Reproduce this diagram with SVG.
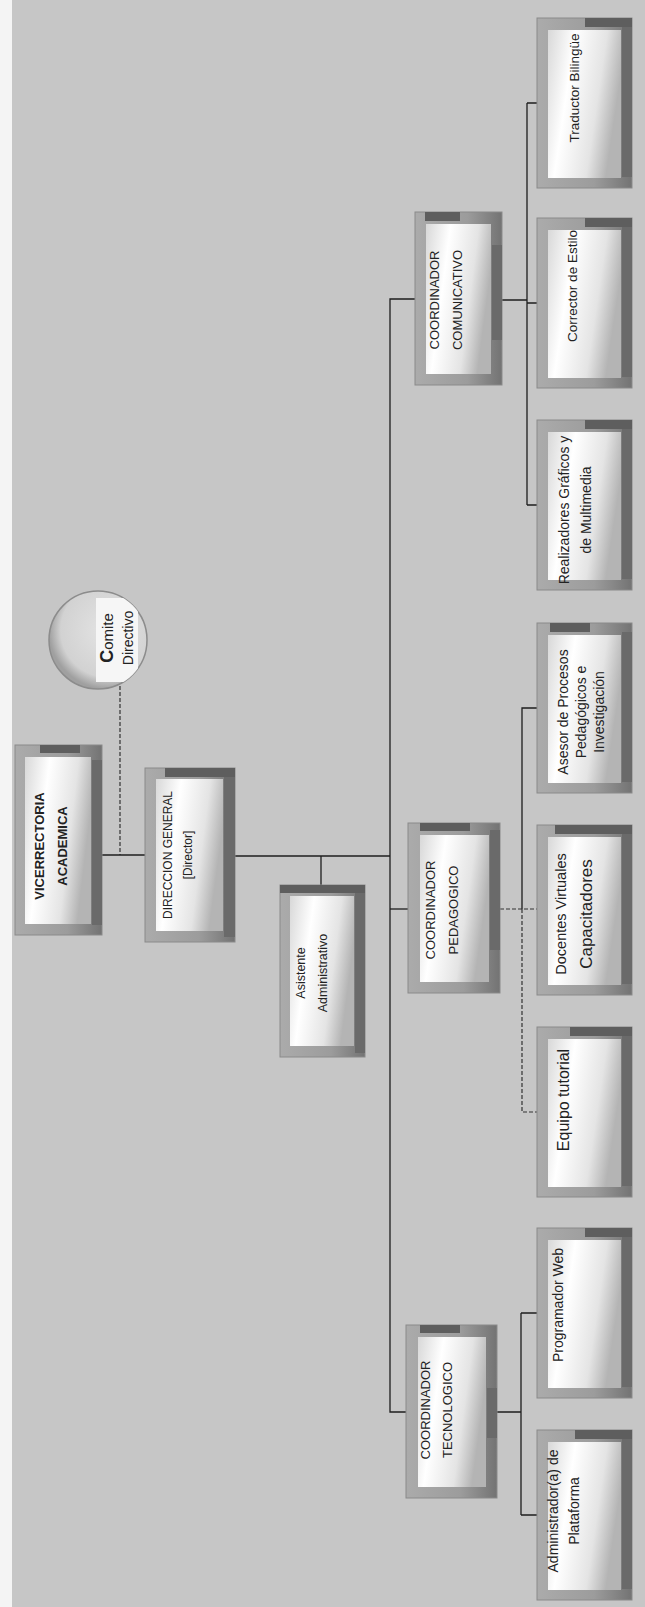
<svg xmlns="http://www.w3.org/2000/svg" width="645" height="1607" viewBox="0 0 645 1607">
<defs>
<linearGradient id="frameG" x1="0" y1="0" x2="1" y2="0">
<stop offset="0" stop-color="#ababab"/><stop offset="0.6" stop-color="#9c9c9c"/><stop offset="1" stop-color="#737373"/>
</linearGradient>
<linearGradient id="panelG" x1="0" y1="0" x2="1" y2="0.3">
<stop offset="0" stop-color="#d8d8d8"/><stop offset="0.35" stop-color="#ffffff"/><stop offset="0.75" stop-color="#e4e4e4"/><stop offset="1" stop-color="#b4b4b4"/>
</linearGradient>
<radialGradient id="circG" cx="0.6" cy="0.4" r="0.6">
<stop offset="0" stop-color="#e4e4e4"/><stop offset="0.8" stop-color="#d2d2d2"/><stop offset="1" stop-color="#a0a0a0"/>
</radialGradient>
<clipPath id="circClip"><circle cx="98" cy="640" r="49"/></clipPath>
<style>
.frame{fill:url(#frameG);stroke:#8a8a8a;stroke-width:1}
.band{fill:#5e5e5e}
.rband{fill:#6a6a6a}
.panel{fill:url(#panelG)}
.t{font-family:"Liberation Sans",Arial,sans-serif;font-size:13px;fill:#222;text-anchor:middle;dominant-baseline:central}
.s{font-size:14px}
.b{font-weight:bold}
.ln{fill:none;stroke:#1e1e1e;stroke-width:1.3}
.dl{fill:none;stroke:#333;stroke-width:1.2;stroke-dasharray:4 2}
</style>
</defs>
<rect x="0" y="0" width="645" height="1607" fill="#f4f4f4"/>
<rect x="12" y="0" width="633" height="1607" fill="#c6c6c6"/>

<g id="connectors">
<path class="dl" d="M120 686 V855"/>
<path class="ln" d="M102 855 H145"/>
<path class="ln" d="M235 856 H390"/>
<path class="ln" d="M321 856 V885"/>
<path class="ln" d="M415 299 H390 V1412 H406"/>
<path class="ln" d="M390 909 H408"/>
<path class="ln" d="M502 300 H527 M527 103 V505 M527 103 H537 M527 303 H537 M527 505 H537"/>
<path class="ln" d="M537 708 H522 V909"/>
<path class="dl" d="M500 909 H537 M522 909 V1112 H537"/>
<path class="ln" d="M497 1412 H521 M521 1313 V1515 M521 1313 H537 M521 1515 H537"/>
</g>

<g id="comite">
<circle cx="98" cy="640" r="49" fill="url(#circG)" stroke="#8c8c8c" stroke-width="1.5"/>
<rect x="96" y="598" width="42" height="84" fill="#f6f6f6" clip-path="url(#circClip)"/>
<text class="t" transform="translate(117,638) rotate(-90)"><tspan x="0" y="-10" style="font-size:15px"><tspan class="b" style="font-size:18px">C</tspan>omite</tspan><tspan x="0" y="11" style="font-size:14px">Directivo</tspan></text>
</g>

<g id="vicerrectoria">
<rect class="frame" x="15" y="745" width="87" height="190"/>
<rect class="band" x="40" y="745" width="40" height="8"/>
<rect class="rband" x="92" y="760" width="10" height="165"/>
<rect class="panel" x="25" y="757" width="66" height="167"/>
<text class="t b" transform="translate(50,846) rotate(-90)"><tspan x="0" y="-11.5">VICERRECTORIA</tspan><tspan x="0" y="11.5">ACADEMICA</tspan></text>
</g>

<g id="direccion">
<rect class="frame" x="145" y="768" width="90" height="174"/>
<rect class="band" x="165" y="768" width="70" height="9"/>
<rect class="rband" x="224" y="777" width="11" height="160"/>
<rect class="panel" x="156" y="779" width="67" height="152"/>
<text class="t" transform="translate(178,855) rotate(-90)" style="font-size:12px"><tspan x="0" y="-10">DIRECCION GENERAL</tspan><tspan x="0" y="10">[Director]</tspan></text>
</g>

<g id="asistente">
<rect class="frame" x="280" y="885" width="85" height="172"/>
<rect class="band" x="280" y="885" width="85" height="8"/>
<rect class="rband" x="355" y="893" width="10" height="160"/>
<rect class="panel" x="290" y="896" width="64" height="150"/>
<text class="t" transform="translate(312,973) rotate(-90)" style="font-size:12.5px"><tspan x="0" y="-11">Asistente</tspan><tspan x="0" y="11">Administrativo</tspan></text>
</g>

<g id="coord-comunicativo">
<rect class="frame" x="415" y="212" width="87" height="173"/>
<rect class="band" x="425" y="212" width="35" height="9"/>
<rect class="rband" x="492" y="245" width="10" height="95"/>
<rect class="panel" x="426" y="224" width="65" height="150"/>
<text class="t" transform="translate(445,300) rotate(-90)"><tspan x="0" y="-11.5">COORDINADOR</tspan><tspan x="0" y="11.5">COMUNICATIVO</tspan></text>
</g>

<g id="coord-pedagogico">
<rect class="frame" x="408" y="823" width="92" height="170"/>
<rect class="band" x="420" y="823" width="50" height="8"/>
<rect class="rband" x="490" y="830" width="10" height="120"/>
<rect class="panel" x="420" y="835" width="69" height="147"/>
<text class="t" transform="translate(441,910) rotate(-90)"><tspan x="0" y="-11.5">COORDINADOR</tspan><tspan x="0" y="11.5">PEDAGOGICO</tspan></text>
</g>

<g id="coord-tecnologico">
<rect class="frame" x="406" y="1325" width="91" height="173"/>
<rect class="band" x="420" y="1325" width="40" height="8"/>
<rect class="rband" x="487" y="1388" width="10" height="50"/>
<rect class="panel" x="418" y="1337" width="68" height="150"/>
<text class="t" transform="translate(436,1410) rotate(-90)"><tspan x="0" y="-11">COORDINADOR</tspan><tspan x="0" y="11">TECNOLOGICO</tspan></text>
</g>

<g id="traductor">
<rect class="frame" x="537" y="18" width="95" height="170"/>
<rect class="band" x="585" y="18" width="47" height="9"/>
<rect class="rband" x="622" y="27" width="10" height="150"/>
<rect class="panel" x="548" y="30" width="73" height="148"/>
<text class="t" transform="translate(574,88) rotate(-90)" style="font-size:13.5px"><tspan x="0" y="0">Traductor Bilingüe</tspan></text>
</g>

<g id="corrector">
<rect class="frame" x="537" y="218" width="95" height="170"/>
<rect class="band" x="585" y="218" width="47" height="9"/>
<rect class="rband" x="622" y="227" width="10" height="150"/>
<rect class="panel" x="548" y="230" width="73" height="148"/>
<text class="t" transform="translate(572,286) rotate(-90)" style="font-size:13.5px"><tspan x="0" y="0">Corrector de Estilo</tspan></text>
</g>

<g id="realizadores">
<rect class="frame" x="537" y="420" width="95" height="170"/>
<rect class="band" x="585" y="420" width="47" height="9"/>
<rect class="rband" x="622" y="429" width="10" height="150"/>
<rect class="panel" x="548" y="432" width="73" height="148"/>
<text class="t s" transform="translate(575,510) rotate(-90)"><tspan x="0" y="-11">Realizadores Gráficos y</tspan><tspan x="0" y="11">de Multimedia</tspan></text>
</g>

<g id="asesor">
<rect class="frame" x="537" y="623" width="95" height="170"/>
<rect class="band" x="550" y="623" width="40" height="9"/>
<rect class="rband" x="622" y="632" width="10" height="150"/>
<rect class="panel" x="548" y="635" width="73" height="148"/>
<text class="t s" transform="translate(581,712) rotate(-90)"><tspan x="0" y="-18">Asesor de Procesos</tspan><tspan x="0" y="0">Pedagógicos e</tspan><tspan x="0" y="18">Investigación</tspan></text>
</g>

<g id="docentes">
<rect class="frame" x="537" y="825" width="95" height="170"/>
<rect class="band" x="555" y="825" width="77" height="9"/>
<rect class="rband" x="622" y="834" width="10" height="150"/>
<rect class="panel" x="548" y="837" width="73" height="148"/>
<text class="t" transform="translate(574,914) rotate(-90)"><tspan x="0" y="-13" style="font-size:14.5px">Docentes Virtuales</tspan><tspan x="0" y="12" style="font-size:17px">Capacitadores</tspan></text>
</g>

<g id="equipo">
<rect class="frame" x="537" y="1027" width="95" height="170"/>
<rect class="band" x="570" y="1027" width="62" height="9"/>
<rect class="rband" x="622" y="1036" width="10" height="150"/>
<rect class="panel" x="548" y="1039" width="73" height="148"/>
<text class="t" transform="translate(563,1100) rotate(-90)" style="font-size:16px"><tspan x="0" y="0">Equipo tutorial</tspan></text>
</g>

<g id="programador">
<rect class="frame" x="537" y="1228" width="95" height="170"/>
<rect class="band" x="585" y="1228" width="47" height="9"/>
<rect class="rband" x="622" y="1237" width="10" height="150"/>
<rect class="panel" x="548" y="1240" width="73" height="148"/>
<text class="t s" transform="translate(558,1305) rotate(-90)"><tspan x="0" y="0">Programador Web</tspan></text>
</g>

<g id="administrador">
<rect class="frame" x="537" y="1430" width="95" height="170"/>
<rect class="band" x="575" y="1430" width="57" height="9"/>
<rect class="rband" x="622" y="1439" width="10" height="150"/>
<rect class="panel" x="548" y="1442" width="73" height="148"/>
<text class="t s" transform="translate(563,1511) rotate(-90)"><tspan x="0" y="-10.5">Administrador(a) de</tspan><tspan x="0" y="10.5">Plataforma</tspan></text>
</g>
</svg>
